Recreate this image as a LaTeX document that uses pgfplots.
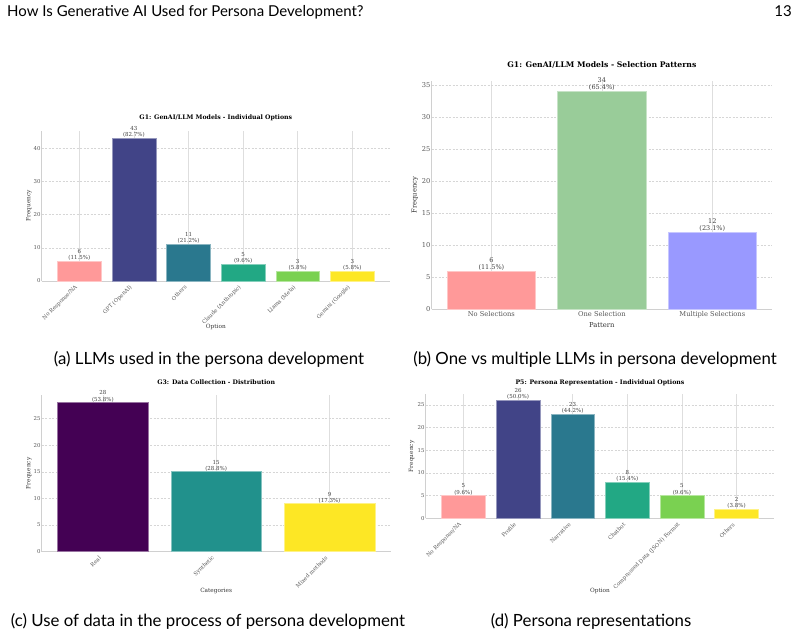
\documentclass[border=0pt]{standalone}
\usepackage{fontspec}
\usepackage{pgfplots}
\pgfplotsset{compat=1.18}
\setmainfont{Lato}
\newfontfamily\cf{DejaVu Serif}

\definecolor{cRose}{HTML}{FF9999}
\definecolor{cIndigo}{HTML}{414487}
\definecolor{cTeal}{HTML}{2A788E}
\definecolor{cGreen}{HTML}{22A884}
\definecolor{cLime}{HTML}{7AD151}
\definecolor{cYellow}{HTML}{FDE725}
\definecolor{cMint}{HTML}{99CC99}
\definecolor{cLav}{HTML}{9999FF}
\definecolor{cPurple}{HTML}{440154}
\definecolor{cSea}{HTML}{21918C}
\definecolor{tickgray}{HTML}{555555}
\definecolor{spine}{HTML}{D0D0D0}

% one bar: colour, position, count, share of 52 responses
\newcommand{\vbar}[4]{\addplot[fill=#1, draw=#1!55!white, line width=0.6pt]
  coordinates {(#2,#3) [#3\\(#4\%)]};}

\pgfplotsset{
  panel/.style={
    scale only axis, anchor=south west, clip=false,
    axis x line*=bottom, axis y line*=left,
    axis line style={spine, line width=0.9pt},
    major tick length=0pt,
    xmajorgrids, ymajorgrids,
    x grid style={black!13, line width=0.6pt},
    y grid style={black!16, dash pattern=on 2pt off 1.5pt, line width=0.45pt},
    ymin=0,
    /pgf/number format/assume math mode=true,
    tick label style={text=tickgray},
    yticklabel style={inner sep=1pt},
    ylabel={Frequency},
    ybar, bar width=0.8, bar shift=0pt,
    point meta=explicit symbolic,
    nodes near coords,
    every node near coord/.append style={align=center, anchor=south, inner sep=0.3pt, text=black!75},
  },
  place/.style n args={3}{
    every axis title/.style={at={(axis description cs:0.5,1)}, yshift=#1, anchor=center},
    every axis x label/.style={at={(axis description cs:0.5,0)}, yshift=#2, anchor=center},
    every axis y label/.style={at={(axis description cs:0,0.5)}, xshift=#3, rotate=90, anchor=center},
  },
  small fonts/.style={
    title style={font=\cf\bfseries\fontsize{6.2}{7}\selectfont},
    tick label style={font=\cf\fontsize{5.4}{6}\selectfont},
    label style={font=\cf\fontsize{5.8}{7}\selectfont, text=black!80},
    every node near coord/.append style={font=\cf\fontsize{5.5}{6.2}\selectfont},
  },
  rotated labels/.style={
    xticklabel style={xshift=-2.5pt, yshift=-5pt, rotate=45, anchor=east, inner sep=0.5pt},
  },
}

\begin{document}
\begin{tikzpicture}
\path[use as bounding box] (0pt,0pt) rectangle (800pt,639pt);

% running head
\node[anchor=base west, font=\fontsize{15}{18}\selectfont, inner sep=0pt] at (7pt,622.5pt)
  {How Is Generative AI Used for Persona Development?};
\node[anchor=base east, font=\fontsize{15}{18}\selectfont, inner sep=0pt] at (792pt,622.5pt) {13};

% (a) individual LLM options
\begin{axis}[panel, place={13pt}{-46pt}{-12.7pt}, small fonts, rotated labels,
  at={(41.7pt,358pt)}, width=348.3pt, height=150pt,
  xmin=-0.69, xmax=5.69, ymax=45.15, ytick={0,10,...,40},
  xtick={0,...,5},
  xticklabels={No Response/NA, GPT (OpenAI), Others, Claude (Anthropic), Llama (Meta), Gemini (Google)},
  title={G1: GenAI/LLM Models - Individual Options}, xlabel={Option}]
\vbar{cRose}{0}{6}{11.5}
\vbar{cIndigo}{1}{43}{82.7}
\vbar{cTeal}{2}{11}{21.2}
\vbar{cGreen}{3}{5}{9.6}
\vbar{cLime}{4}{3}{5.8}
\vbar{cYellow}{5}{3}{5.8}
\end{axis}

% (b) selection patterns
\begin{axis}[panel, place={16pt}{-15.3pt}{-16.7pt},
  title style={font=\cf\bfseries\fontsize{7.7}{9}\selectfont},
  tick label style={font=\cf\fontsize{6.7}{8}\selectfont},
  xticklabel style={inner sep=1.5pt},
  label style={font=\cf\fontsize{6.8}{8}\selectfont, text=black!80},
  every node near coord/.append style={font=\cf\fontsize{6.5}{7.3}\selectfont},
  at={(431.7pt,329.6pt)}, width=340.3pt, height=228.7pt,
  xmin=-0.54, xmax=2.54, ymax=35.7, ytick={0,5,...,35},
  xtick={0,1,2},
  xticklabels={No Selections, One Selection, Multiple Selections},
  title={G1: GenAI/LLM Models - Selection Patterns}, xlabel={Pattern}]
\vbar{cRose}{0}{6}{11.5}
\vbar{cMint}{1}{34}{65.4}
\vbar{cLav}{2}{12}{23.1}
\end{axis}

% (c) data collection
\begin{axis}[panel, place={12.7pt}{-39.3pt}{-12.7pt}, small fonts, rotated labels,
  at={(41.7pt,87.3pt)}, width=349pt, height=156.7pt,
  xmin=-0.54, xmax=2.54, ymax=29.4, ytick={0,5,...,25},
  xtick={0,1,2},
  xticklabels={Real, Synthetic, Mixed methods},
  title={G3: Data Collection - Distribution}, xlabel={Categories}]
\vbar{cPurple}{0}{28}{53.8}
\vbar{cSea}{1}{15}{28.8}
\vbar{cYellow}{2}{9}{17.3}
\end{axis}

% (d) persona representation
\begin{axis}[panel, place={12.2pt}{-72.7pt}{-14pt}, small fonts, rotated labels,
  at={(425.7pt,120.7pt)}, width=348.6pt, height=123.8pt,
  xmin=-0.69, xmax=5.69, ymax=27.3, ytick={0,5,...,25},
  xtick={0,...,5},
  xticklabels={No Response/NA, Profile, Narrative, Chatbot, Compressed Data (JSON) Format, Others},
  title={P5: Persona Representation - Individual Options}, xlabel={Option}]
\vbar{cRose}{0}{5}{9.6}
\vbar{cIndigo}{1}{26}{50.0}
\vbar{cTeal}{2}{23}{44.2}
\vbar{cGreen}{3}{8}{15.4}
\vbar{cLime}{4}{5}{9.6}
\vbar{cYellow}{5}{2}{3.8}
\end{axis}

% sub-captions
\begin{scope}[every node/.style={anchor=base, font=\fontsize{16.8}{20}\selectfont, inner sep=0pt}]
\node at (209pt,274pt) {(a) LLMs used in the persona development};
\node at (595pt,274pt) {(b) One vs multiple LLMs in persona development};
\node at (208pt,12.8pt) {(c) Use of data in the process of persona development};
\node at (591pt,12.8pt) {(d) Persona representations};
\end{scope}
\end{tikzpicture}
\end{document}
